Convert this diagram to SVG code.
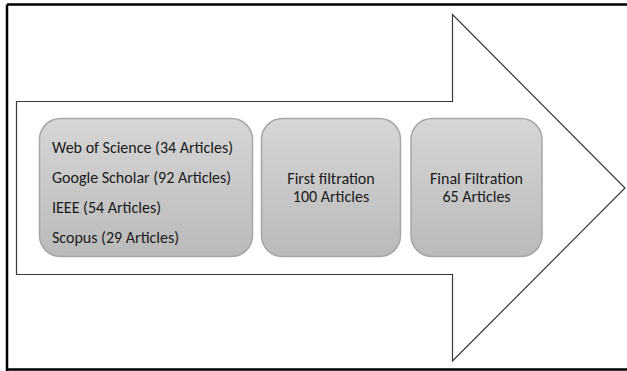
<svg xmlns="http://www.w3.org/2000/svg" width="627" height="371" viewBox="0 0 627 371">
<defs>
<linearGradient id="g" x1="0" y1="0" x2="0" y2="1">
<stop offset="0" stop-color="#d6d6d6"/>
<stop offset="1" stop-color="#bababa"/>
</linearGradient>
<style>
.box{fill:url(#g);stroke:#a6a6a6;stroke-width:1.5}
.t{font-family:Calibri,Carlito,"Liberation Sans",sans-serif;font-size:16px;fill:#1a1a1a}
.c{text-anchor:middle}
</style>
</defs>
<rect x="0" y="0" width="627" height="371" fill="#fff"/>
<path d="M7 4.5 H627 M7 4.5 V371 M7 369.5 H627" fill="none" stroke="#000" stroke-width="2.5"/>
<g id="arrow">
<path d="M16.5 101.5 H452.5 V14.5 L625 188 L452.5 361 V274.5 H16.5 Z" fill="#fff" stroke="#3a3a3a" stroke-width="1.2"/>
</g>
<g id="sources">
<rect class="box" x="39.5" y="118.5" width="213" height="138" rx="21"/>
<text class="t" x="52" y="152.5">Web of Science (34 Articles)</text>
<text class="t" x="52" y="182.5">Google Scholar (92 Articles)</text>
<text class="t" x="52" y="212.5">IEEE (54 Articles)</text>
<text class="t" x="52" y="242.5">Scopus (29 Articles)</text>
</g>
<g id="first">
<rect class="box" x="261.5" y="118.5" width="139" height="138" rx="21"/>
<text class="t c" x="331" y="183.5">First filtration</text>
<text class="t c" x="331" y="201.5">100 Articles</text>
</g>
<g id="final">
<rect class="box" x="411" y="118.5" width="131" height="138" rx="21"/>
<text class="t c" x="476.5" y="183.5">Final Filtration</text>
<text class="t c" x="476.5" y="201.5">65 Articles</text>
</g>
<g id="connectors"></g>
</svg>
